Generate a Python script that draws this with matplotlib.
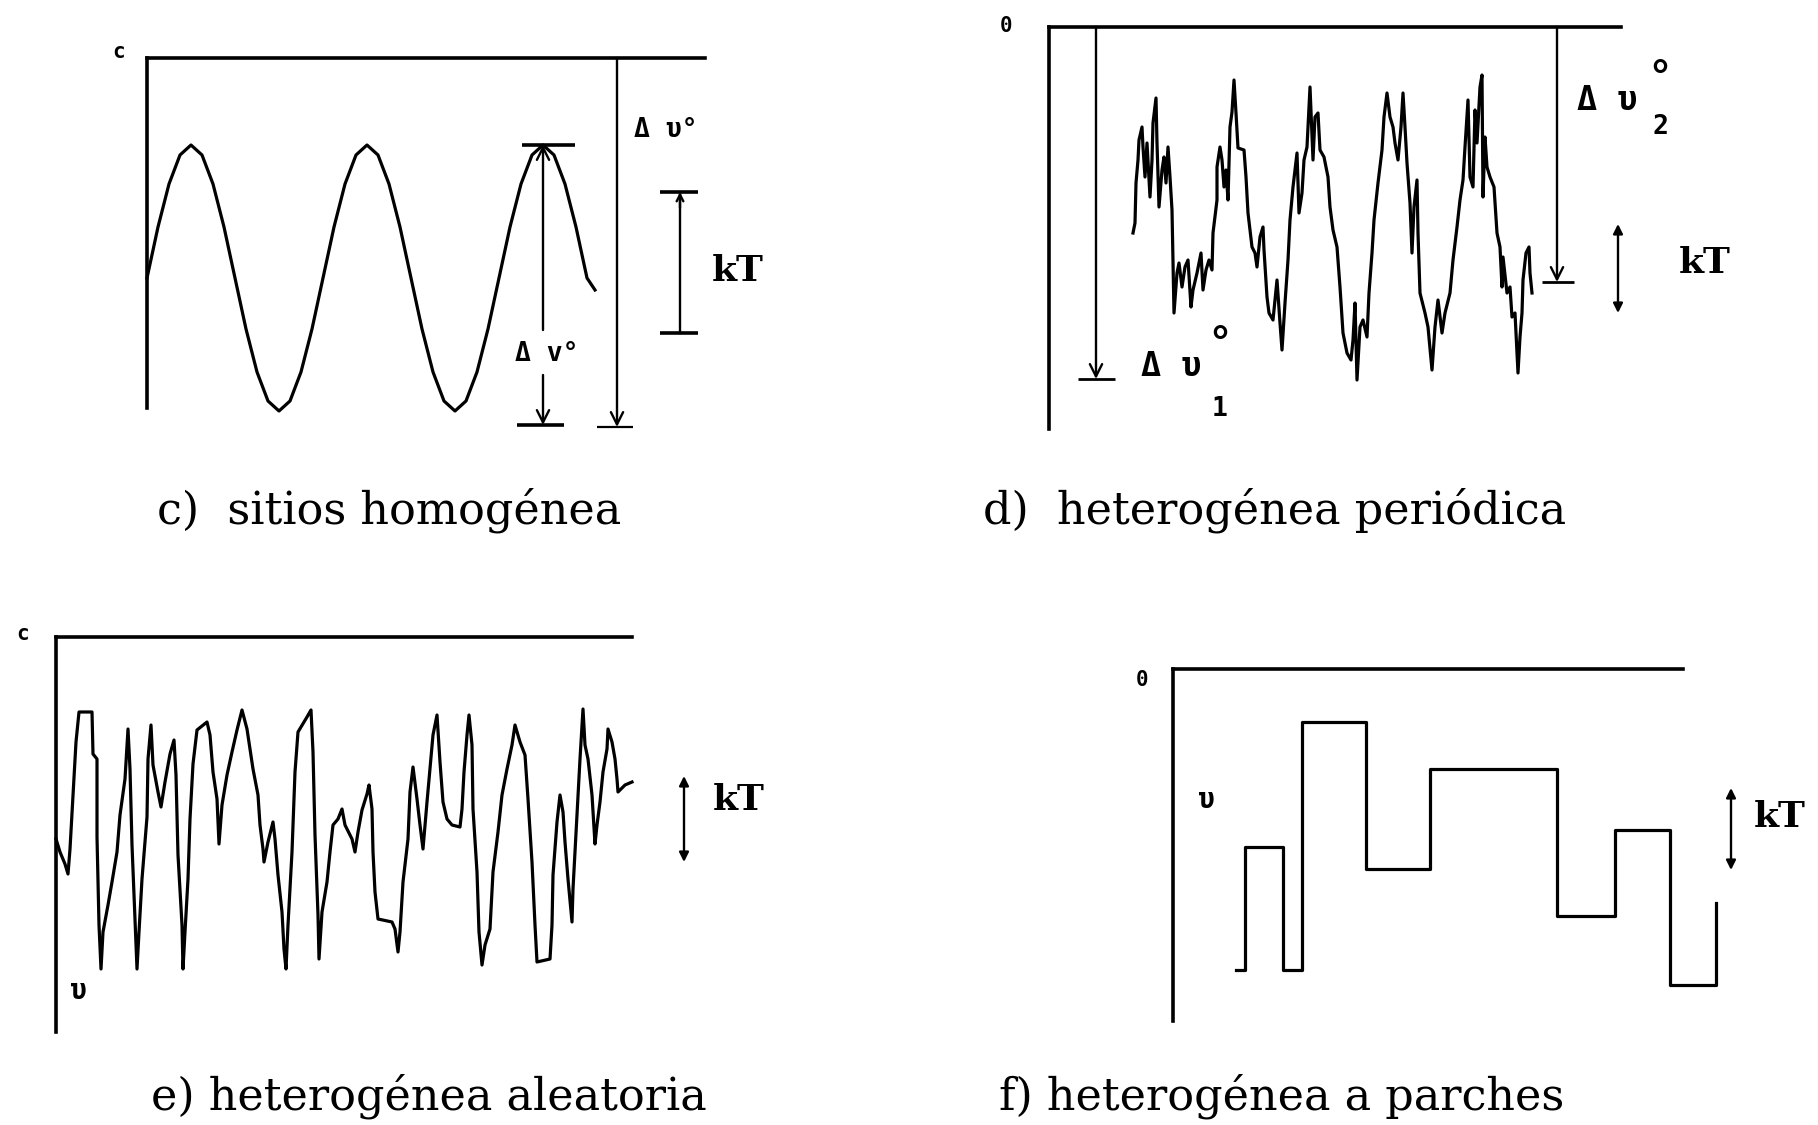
import matplotlib
matplotlib.use("Agg")
import matplotlib.pyplot as plt

# Energía de adsorción (posición sobre la superficie, energía) para cada caso.
# c) superficie de sitios homogéneos
homog_x = [0, 11, 22, 33, 44, 55, 66, 77, 88, 99, 110, 121, 132, 143, 154, 165,
           176, 187, 198, 209, 220, 231, 242, 253, 264, 275, 286, 297, 308, 319,
           330, 341, 352, 363, 374, 385, 396, 407, 418, 429, 440, 448]
homog_u = [-220, -169, -126, -97, -87, -97, -126, -169, -220, -271, -314, -343,
           -353, -343, -314, -271, -220, -169, -126, -97, -87, -97, -126, -169,
           -220, -271, -314, -343, -353, -343, -314, -271, -220, -169, -126, -97,
           -87, -97, -126, -169, -220, -232]

# d) heterogénea periódica
period_x = [84, 86, 87, 89, 90, 93, 94, 96, 98, 101, 103, 104, 107, 108, 110, 113,
            115, 117, 119, 121, 123, 124, 125, 128, 130, 133, 136, 139, 142, 144,
            148, 152, 154, 157, 160, 163, 164, 168, 168, 171, 173, 175, 177, 179,
            181, 183, 185, 187, 189, 195, 197, 199, 203, 206, 208, 211, 214, 215,
            218, 220, 224, 228, 231, 233, 236, 239, 241, 244, 248, 250, 253, 255,
            258, 261, 264, 266, 269, 271, 275, 279, 281, 284, 288, 291, 294, 298,
            302, 304, 306, 308, 311, 314, 318, 320, 323, 325, 329, 333, 335, 338,
            341, 344, 346, 349, 352, 354, 356, 358, 361, 363, 365, 368, 369, 371,
            376, 379, 383, 386, 389, 393, 396, 401, 404, 408, 411, 414, 416, 419,
            421, 424, 426, 428, 431, 433, 434, 436, 438, 441, 445, 448, 451, 453,
            454, 458, 461, 463, 466, 468, 469, 471, 473, 474, 477, 480, 481, 483]
period_u = [-206, -196, -156, -133, -113, -100, -120, -150, -116, -170, -133, -96,
            -71, -116, -180, -143, -130, -156, -120, -150, -183, -233, -286, -246,
            -236, -260, -240, -233, -280, -263, -246, -226, -263, -243, -233, -243,
            -206, -173, -140, -120, -133, -160, -143, -173, -100, -85, -53, -86,
            -121, -123, -150, -186, -220, -226, -240, -210, -200, -223, -270, -286,
            -293, -253, -296, -323, -276, -233, -193, -160, -126, -186, -166, -133,
            -120, -60, -133, -90, -86, -123, -130, -150, -180, -203, -220, -260,
            -306, -326, -333, -313, -276, -353, -300, -293, -310, -266, -226, -193,
            -156, -123, -90, -66, -90, -100, -116, -133, -100, -66, -100, -136,
            -176, -226, -180, -153, -206, -266, -286, -300, -343, -300, -273, -306,
            -286, -266, -233, -200, -173, -153, -120, -73, -150, -160, -83, -116,
            -60, -48, -170, -110, -140, -150, -160, -206, -220, -260, -230, -266,
            -260, -290, -286, -326, -346, -310, -286, -253, -226, -220, -246, -266]

# e) heterogénea aleatoria
random_x = [0, 4, 9, 12, 14, 17, 20, 23, 36, 37, 41, 41, 43, 45, 47, 52, 56, 61,
            64, 69, 72, 74, 76, 79, 81, 83, 86, 91, 92, 95, 97, 102, 105, 109, 114,
            118, 120, 122, 126, 127, 129, 132, 134, 137, 141, 151, 154, 157, 161,
            163, 166, 171, 176, 181, 186, 191, 194, 197, 202, 204, 207, 208, 212,
            217, 219, 222, 226, 228, 230, 232, 236, 239, 242, 251, 255, 257, 259,
            262, 263, 266, 271, 274, 277, 282, 286, 289, 296, 299, 302, 306, 311,
            313, 316, 317, 319, 322, 336, 339, 342, 344, 347, 352, 354, 357, 361,
            364, 367, 371, 374, 377, 381, 384, 387, 391, 396, 404, 406, 408, 411,
            413, 416, 417, 421, 423, 426, 429, 434, 437, 442, 446, 451, 456, 459,
            464, 469, 472, 476, 479, 481, 494, 496, 497, 501, 504, 507, 509, 512,
            516, 517, 521, 524, 527, 529, 532, 536, 539, 541, 544, 547, 551, 552,
            556, 559, 561, 562, 569, 576]
random_u = [-202, -215, -227, -237, -212, -158, -105, -75, -75, -117, -122, -200,
            -288, -332, -295, -268, -245, -215, -178, -142, -92, -132, -208, -282,
            -332, -295, -242, -180, -122, -88, -128, -155, -170, -145, -117, -103,
            -138, -218, -288, -332, -295, -242, -182, -127, -93, -85, -98, -135,
            -162, -207, -168, -138, -115, -93, -73, -92, -112, -132, -158, -188,
            -212, -225, -205, -185, -202, -238, -275, -312, -332, -288, -215, -135,
            -95, -80, -73, -115, -198, -278, -322, -275, -245, -215, -188, -182,
            -172, -188, -202, -215, -195, -173, -157, -148, -172, -215, -255, -282,
            -285, -292, -315, -295, -245, -202, -155, -130, -162, -188, -212, -165,
            -132, -98, -78, -125, -165, -182, -188, -190, -172, -135, -98, -78,
            -108, -172, -235, -295, -328, -308, -292, -235, -195, -158, -132, -108,
            -88, -105, -118, -162, -225, -288, -325, -322, -288, -238, -185, -158,
            -175, -205, -242, -285, -252, -178, -122, -72, -108, -122, -158, -207,
            -188, -165, -135, -112, -92, -105, -122, -142, -155, -148, -145]

# f) heterogénea a parches: bordes de cada parche y nivel de energía
patch_edges = [63, 72, 110, 129, 193, 257, 384, 442, 497, 543]
patch_u = [-301, -178, -301, -53, -200, -100, -247, -161, -316, -234]

captions = ["c)  sitios homogénea", "d)  heterogénea periódica",
            "e) heterogénea aleatoria", "f) heterogénea a parches"]

LW_CURVE = 2.3
LW_FRAME = 2.6
LW_ARROW = 1.7
MONO = "DejaVu Sans Mono"
SERIF = "DejaVu Serif"

fig = plt.figure(figsize=(18.18, 11.25), dpi=100)
FIG_W, FIG_H = 1818, 1125


def panel(left, top, width, height):
    """Ejes sin escalas: solo el nivel cero (arriba) y el eje de energía (izquierda)."""
    ax = fig.add_axes([left / FIG_W, 1 - (top + height) / FIG_H,
                       width / FIG_W, height / FIG_H])
    ax.set_xlim(0, width)
    ax.set_ylim(-height, 0)
    for side in ("bottom", "right"):
        ax.spines[side].set_visible(False)
    for side in ("top", "left"):
        ax.spines[side].set_linewidth(LW_FRAME)
    ax.set_xticks([])
    ax.set_yticks([])
    ax.patch.set_visible(False)
    return ax


def flecha(ax, x, y0, y1, estilo="->", escala=22):
    ax.annotate("", xy=(x, y1), xytext=(x, y0), annotation_clip=False,
                arrowprops=dict(arrowstyle=estilo, lw=LW_ARROW, color="black",
                                mutation_scale=escala, shrinkA=0, shrinkB=0))


def barra(ax, x0, x1, y, lw=LW_FRAME):
    ax.plot([x0, x1], [y, y], color="black", lw=lw, clip_on=False,
            solid_capstyle="butt")


def etiqueta(ax, x, y, s, size=20, weight="bold", ha="left", family=MONO):
    ax.text(x, y, s, fontsize=size, fontweight=weight, family=family,
            ha=ha, va="center", clip_on=False)


def kt(ax, x, y0, y1, x_txt, y_txt, size=26):
    ax.annotate("", xy=(x, y1), xytext=(x, y0), annotation_clip=False,
                arrowprops=dict(arrowstyle="<|-|>", lw=LW_ARROW, color="black",
                                mutation_scale=14, shrinkA=0, shrinkB=0))
    etiqueta(ax, x_txt, y_txt, "kT", size=size, family=SERIF)


# c) sitios homogéneos
ax = panel(147, 58, 558, 350)
ax.plot(homog_x, homog_u, color="black", lw=LW_CURVE, clip_on=False)
etiqueta(ax, -28, 6, "c", size=15, ha="center")
flecha(ax, 396, -272, -87)
flecha(ax, 396, -317, -367)
barra(ax, 375, 428, -87)
barra(ax, 370, 417, -367)
etiqueta(ax, 368, -296, "Δ v°", size=19)
flecha(ax, 470, 0, -369)
barra(ax, 450, 486, -369, lw=1.6)
etiqueta(ax, 487, -72, "Δ υ°", size=19)
ax.plot([533, 533], [-134, -275], color="black", lw=LW_ARROW)
flecha(ax, 533, -150, -134, escala=12)
barra(ax, 513, 551, -134)
barra(ax, 513, 551, -275)
etiqueta(ax, 565, -213, "kT", size=26, family=SERIF)

# d) heterogénea periódica
ax = panel(1049, 27, 572, 402)
ax.plot(period_x, period_u, color="black", lw=LW_CURVE, clip_on=False)
etiqueta(ax, -43, 1, "0", size=15, ha="center")
flecha(ax, 47, 0, -352)
barra(ax, 29, 66, -352, lw=2.0)
etiqueta(ax, 92, -340, "Δ υ", size=24)
etiqueta(ax, 171, -318, "°", size=30, ha="center")
etiqueta(ax, 171, -382, "1", size=19, ha="center")
flecha(ax, 508, 0, -255)
barra(ax, 493, 525, -255, lw=2.0)
etiqueta(ax, 528, -74, "Δ υ", size=24)
etiqueta(ax, 611, -52, "°", size=30, ha="center")
etiqueta(ax, 611, -100, "2", size=19, ha="center")
kt(ax, 569, -197, -286, 630, -236)

# e) heterogénea aleatoria
ax = panel(56, 637, 576, 395)
ax.plot(random_x, random_u, color="black", lw=LW_CURVE, clip_on=False)
etiqueta(ax, -33, 3, "c", size=15, ha="center")
etiqueta(ax, 22, -354, "υ", size=20, ha="center")
kt(ax, 628, -139, -225, 657, -163)

# f) heterogénea a parches
ax = panel(1173, 669, 510, 352)
ax.step(patch_edges, patch_u, where="post", color="black", lw=LW_CURVE,
        clip_on=False)
etiqueta(ax, -31, -11, "0", size=15, ha="center")
etiqueta(ax, 33, -131, "υ", size=20, ha="center")
kt(ax, 558, -119, -201, 581, -148)

# Títulos de cada caso
caption_pos = [(157, 510), (983, 510), (151, 1096), (999, 1096)]
for txt, (px, py) in zip(captions, caption_pos):
    fig.text(px / FIG_W, 1 - py / FIG_H, txt, fontsize=32, family=SERIF,
             ha="left", va="center")

fig.savefig("out.png", dpi=100, facecolor="white")
